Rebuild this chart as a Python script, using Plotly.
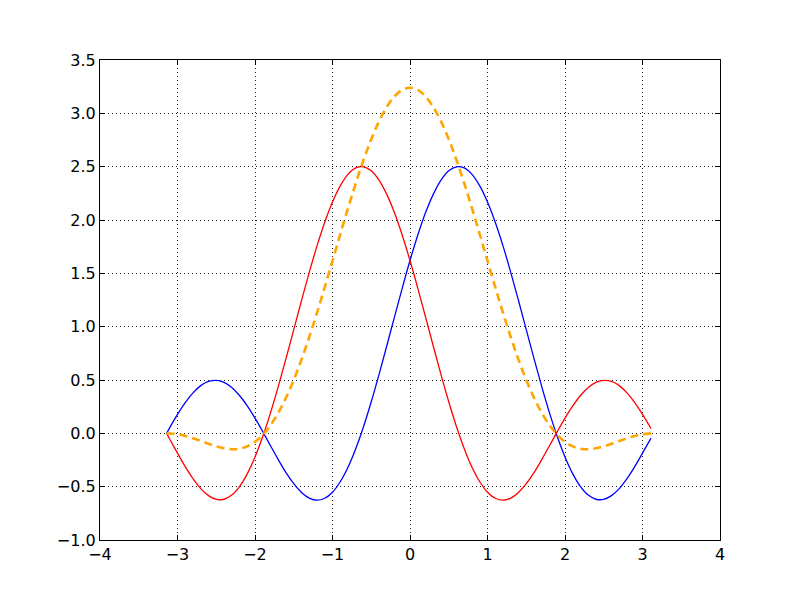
import plotly.graph_objects as go

# values
x = [-3.14, -3.1, -3.0, -2.9, -2.8, -2.7, -2.6, -2.5, -2.4, -2.3, -2.2, -2.1,
     -2.0, -1.9, -1.8, -1.7, -1.6, -1.5, -1.4, -1.3, -1.2, -1.1, -1.0, -0.9,
     -0.8, -0.7, -0.6, -0.5, -0.4, -0.3, -0.2, -0.1, 0.0, 0.1, 0.2, 0.3, 0.4,
     0.5, 0.6, 0.7, 0.8, 0.9, 1.0, 1.1, 1.2, 1.3, 1.4, 1.5, 1.6, 1.7, 1.8,
     1.9, 2.0, 2.1, 2.2, 2.3, 2.4, 2.5, 2.6, 2.7, 2.8, 2.9, 3.0, 3.11]

blue = [0.0, 0.054, 0.178, 0.288, 0.379, 0.447, 0.486, 0.497, 0.478, 0.430,
        0.355, 0.258, 0.143, 0.016, -0.116, -0.246, -0.368, -0.472, -0.554,
        -0.607, -0.627, -0.609, -0.552, -0.454, -0.318, -0.144, 0.062, 0.296,
        0.551, 0.819, 1.092, 1.362, 1.62, 1.857, 2.067, 2.240, 2.373, 2.461,
        2.499, 2.488, 2.428, 2.320, 2.169, 1.979, 1.757, 1.509, 1.245, 0.973,
        0.701, 0.438, 0.192, -0.030, -0.222, -0.380, -0.499, -0.579, -0.618,
        -0.619, -0.584, -0.518, -0.425, -0.312, -0.186, -0.045]

red = [0.0, -0.055, -0.186, -0.312, -0.425, -0.518, -0.584, -0.619, -0.618,
       -0.579, -0.499, -0.380, -0.222, -0.030, 0.192, 0.438, 0.701, 0.973,
       1.245, 1.509, 1.757, 1.979, 2.169, 2.320, 2.428, 2.488, 2.499, 2.461,
       2.373, 2.240, 2.067, 1.857, 1.62, 1.362, 1.092, 0.819, 0.551, 0.296,
       0.062, -0.144, -0.318, -0.454, -0.552, -0.609, -0.627, -0.607, -0.554,
       -0.472, -0.368, -0.246, -0.116, 0.016, 0.143, 0.258, 0.355, 0.430,
       0.478, 0.497, 0.486, 0.447, 0.379, 0.288, 0.178, 0.045]

orange = [0.0, -0.001, -0.008, -0.024, -0.046, -0.071, -0.098, -0.122, -0.140,
          -0.149, -0.144, -0.122, -0.079, -0.014, 0.076, 0.192, 0.334, 0.501,
          0.691, 0.902, 1.130, 1.370, 1.617, 1.866, 2.110, 2.344, 2.562, 2.757,
          2.924, 3.059, 3.159, 3.220, 3.24, 3.220, 3.159, 3.059, 2.924, 2.757,
          2.562, 2.344, 2.110, 1.866, 1.617, 1.370, 1.130, 0.902, 0.691, 0.501,
          0.334, 0.192, 0.076, -0.014, -0.079, -0.122, -0.144, -0.149, -0.140,
          -0.122, -0.098, -0.071, -0.046, -0.024, -0.008, 0.0]

x_ticks = [-4, -3, -2, -1, 0, 1, 2, 3, 4]
y_ticks = [-1.0, -0.5, 0.0, 0.5, 1.0, 1.5, 2.0, 2.5, 3.0, 3.5]

fig = go.Figure()
fig.add_trace(go.Scatter(x=x, y=blue, mode="lines",
                         line=dict(color="#0000ff", width=1.3, shape="spline")))
fig.add_trace(go.Scatter(x=x, y=red, mode="lines",
                         line=dict(color="#ff0000", width=1.3, shape="spline")))
fig.add_trace(go.Scatter(x=x, y=orange, mode="lines",
                         line=dict(color="#ffa500", width=2.6, shape="spline",
                                   dash="8px,5px")))

axis_style = dict(
    showline=True, linecolor="black", linewidth=1.2, mirror="allticks",
    ticks="inside", ticklen=5, tickwidth=1, tickcolor="black",
    showgrid=True, gridcolor="#222222", gridwidth=1, griddash="1px,3px",
    zeroline=False,
    tickfont=dict(family="DejaVu Sans", size=16, color="black"),
)

fig.update_xaxes(range=[-4, 4], tickvals=x_ticks, tickformat="d", **axis_style)
fig.update_yaxes(range=[-1.0, 3.5], tickvals=y_ticks, tickformat=".1f", **axis_style)

# the page body adds 8px, so margins are shifted to put the frame at 100..720 / 60..540
fig.update_layout(
    width=800, height=600,
    margin=dict(l=92, r=88, t=52, b=68),
    paper_bgcolor="white", plot_bgcolor="white",
    showlegend=False,
)

fig.write_html("out.html")
